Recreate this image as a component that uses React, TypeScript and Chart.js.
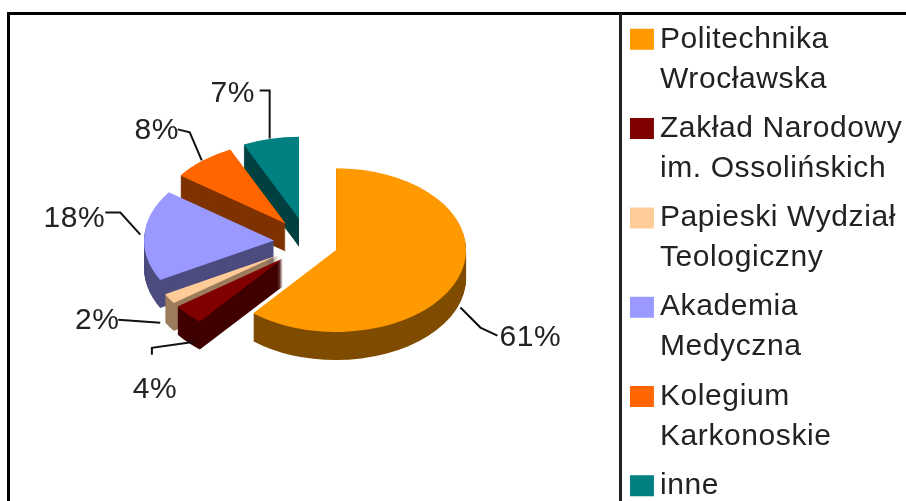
import React, { useEffect, useRef } from "react";
import { Chart, registerables } from "chart.js";

Chart.register(...registerables);

const categories: string[][] = [
  ["Politechnika", "Wrocławska"],
  ["Zakład Narodowy", "im. Ossolińskich"],
  ["Papieski Wydział", "Teologiczny"],
  ["Akademia", "Medyczna"],
  ["Kolegium", "Karkonoskie"],
  ["inne"],
];
const shares = [61, 4, 2, 18, 8, 7];
const topColors = ["#FF9900", "#800000", "#FFCC99", "#9999FF", "#FF6600", "#008080"];
const sideColors = ["#7F4C00", "#400000", "#9C7C5C", "#4C4C7F", "#7F3300", "#004040"];

const FONT = "'Liberation Sans', Arial, sans-serif";
const TEXT = "#222222";
const SQUASH = 0.63;
const DEPTH = 28;
const PIE_X = 306;
const PIE_Y = 242;
const EXPLODE_X = 32;
const EXPLODE_Y = 38;
const ANCHOR_X = 305;
const ANCHOR_Y = 243;
const ANCHOR_EXPLODE = 32;
const LEGEND_SPACING = "0.6px";

// leader polylines and label centres, as offsets from each slice's rim midpoint
const leaders: number[][][] = [
  [[3, 30], [23, 50], [40, 58]],
  [[8, 29], [-35, 35], [-35, 42]],
  [[-8, 25], [-50, 22]],
  [[-3, -2], [-23, -24], [-38, -24]],
  [[0, -4], [-12, -32], [-24, -35]],
  [[0, -5], [0, -53], [-10, -53]],
];
const labelOffsets: number[][] = [
  [73, 60.5], [-32, 76.5], [-71, 23.5], [-69, -17.5], [-45, -33.5], [-37, -50],
];

const geom = (arc: any) => {
  const { x, y, startAngle, endAngle, outerRadius } = arc.getProps(
    ["x", "y", "startAngle", "endAngle", "outerRadius"],
    true
  );
  return { x, y, startAngle, endAngle, outerRadius, mid: (startAngle + endAngle) / 2 };
};

const pie3d = {
  id: "pie3d",
  beforeLayout(chart: any) {
    (chart.ctx as any).letterSpacing = LEGEND_SPACING;
  },
  beforeDraw(chart: any) {
    const { ctx } = chart;
    (ctx as any).letterSpacing = LEGEND_SPACING;
    ctx.save();
    ctx.fillStyle = "#ffffff";
    ctx.fillRect(0, 0, chart.width, chart.height);
    ctx.strokeStyle = "#000000";
    ctx.lineWidth = 3;
    ctx.beginPath();
    ctx.moveTo(8.5, chart.height);
    ctx.lineTo(8.5, 13.5);
    ctx.lineTo(chart.width, 13.5);
    ctx.stroke();
    ctx.strokeStyle = "#222222";
    ctx.beginPath();
    ctx.moveTo(620.5, 13.5);
    ctx.lineTo(620.5, chart.height);
    ctx.stroke();
    ctx.restore();
  },
  beforeDatasetDraw(chart: any, args: any) {
    const { ctx } = chart;
    const arcs = args.meta.data;
    const place = (drop: number, g: any) => {
      ctx.translate(PIE_X - g.x, PIE_Y + drop);
      ctx.scale(1, SQUASH);
      ctx.translate(0, -g.y);
      ctx.translate(Math.cos(g.mid) * EXPLODE_X, Math.sin(g.mid) * EXPLODE_Y);
    };
    for (let i = arcs.length - 1; i >= 0; i--) {
      const arc = arcs[i];
      const g = geom(arc);
      ctx.fillStyle = sideColors[i];
      for (let d = DEPTH; d >= 1; d--) {
        ctx.save();
        place(d, g);
        ctx.beginPath();
        ctx.moveTo(g.x, g.y);
        ctx.arc(g.x, g.y, g.outerRadius, g.startAngle, g.endAngle);
        ctx.closePath();
        ctx.fill();
        ctx.restore();
      }
      ctx.save();
      place(0, g);
      arc.draw(ctx);
      ctx.restore();
    }

    ctx.save();
    ctx.strokeStyle = "#111111";
    ctx.lineWidth = 2;
    ctx.fillStyle = TEXT;
    ctx.font = `30px ${FONT}`;
    ctx.textAlign = "center";
    ctx.textBaseline = "middle";
    arcs.forEach((arc: any, i: number) => {
      const { outerRadius, mid } = geom(arc);
      const r = outerRadius + ANCHOR_EXPLODE;
      const ax = ANCHOR_X + Math.cos(mid) * r;
      const ay = ANCHOR_Y + Math.sin(mid) * r * SQUASH;
      ctx.beginPath();
      leaders[i].forEach(([dx, dy], j) => {
        if (j === 0) ctx.moveTo(ax + dx, ay + dy);
        else ctx.lineTo(ax + dx, ay + dy);
      });
      ctx.stroke();
      ctx.fillText(`${shares[i]}%`, ax + labelOffsets[i][0], ay + labelOffsets[i][1]);
    });
    ctx.restore();
    return false;
  },
};

export default function App() {
  const ref = useRef<HTMLCanvasElement>(null);
  useEffect(() => {
    if (!ref.current) return;
    const baseLabels = (Chart as any).overrides.doughnut.plugins.legend.labels.generateLabels;
    const chart = new Chart(ref.current, {
      type: "doughnut",
      data: {
        labels: categories as any,
        datasets: [
          {
            data: shares,
            backgroundColor: topColors,
            borderWidth: 0,
            clip: false,
          } as any,
        ],
      },
      options: {
        responsive: false,
        animation: false,
        cutout: 0,
        radius: 130,
        rotation: 0,
        layout: { padding: { top: 15, right: 34 } },
        plugins: {
          tooltip: { enabled: false },
          legend: {
            position: "right",
            align: "start",
            labels: {
              boxWidth: 6,
              boxHeight: 3,
              padding: 9.3,
              color: TEXT,
              font: { family: FONT, size: 30, lineHeight: 40 / 30 },
              generateLabels: (c: any) =>
                baseLabels(c).map((item: any) => ({
                  ...item,
                  lineWidth: 18,
                  strokeStyle: item.fillStyle,
                  lineCap: "butt",
                  lineJoin: "miter",
                })),
            },
          },
        },
      } as any,
      plugins: [pie3d as any],
    });
    return () => chart.destroy();
  }, []);
  return (
    <div style={{ position: "absolute", left: 0, top: 0, width: 906, height: 501, overflow: "hidden", background: "#fff" }}>
      <canvas ref={ref} width={940} height={540} style={{ display: "block" }} />
    </div>
  );
}
